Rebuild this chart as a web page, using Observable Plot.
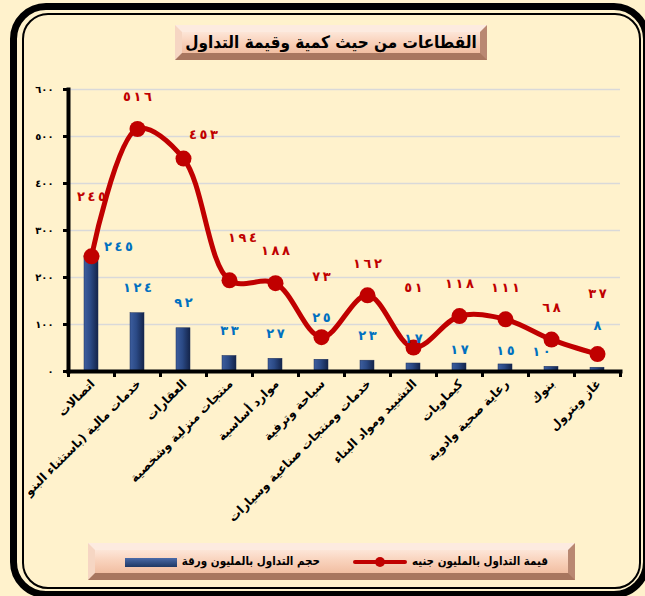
<!DOCTYPE html>
<html><head><meta charset="utf-8">
<script src="https://cdn.jsdelivr.net/npm/d3@7"></script>
<script src="https://cdn.jsdelivr.net/npm/@observablehq/plot@0.6"></script>
<style>
body{margin:0;background:#FFF2CC;}
#wrap{position:relative;width:645px;height:596px;overflow:hidden;background:#FFF2CC;font-family:"DejaVu Sans",sans-serif;}
#chart{position:absolute;left:28px;top:0;}
#outer{position:absolute;left:10px;top:3px;width:640px;height:595px;border:7px solid #000;border-radius:36px;box-sizing:border-box;pointer-events:none;}
#inner{position:absolute;left:22px;top:13px;width:619px;height:576px;border:2px solid #000;border-radius:26px;box-sizing:border-box;pointer-events:none;}
.bevel{position:absolute;box-sizing:border-box;border:7px solid;border-color:#fdebe0 #b98872 #a8765f #f6d6c3;
  background:linear-gradient(to bottom,#fde6d8 0%,#f9d3bd 45%,#f1bea2 100%);}
#title{left:175px;top:25px;width:312px;height:35px;text-align:center;font-weight:bold;font-size:17px;line-height:21px;color:#000;direction:rtl;white-space:nowrap;font-family:"DejaVu Sans Condensed","DejaVu Sans",sans-serif;}
#legend{left:88px;top:543px;width:487px;height:37px;}
.lt{position:absolute;font-weight:bold;font-size:11.5px;color:#000;direction:rtl;white-space:nowrap;top:554px;font-family:"DejaVu Sans Condensed","DejaVu Sans",sans-serif;}
</style></head>
<body><div id="wrap">
<div id="chart"></div>
<div id="title" class="bevel">القطاعات من حيث كمية وقيمة التداول</div>
<div id="legend" class="bevel"></div>
<div class="lt" style="right:97px;">قيمة التداول بالمليون جنيه</div>
<div style="position:absolute;left:353px;top:560px;width:54px;height:4px;background:#C00000;border-radius:2px;"></div>
<div style="position:absolute;left:375px;top:557px;width:10px;height:10px;background:#C00000;border-radius:50%;"></div>
<div class="lt" style="right:325px;">حجم التداول بالمليون ورقة</div>
<div style="position:absolute;left:125px;top:558px;width:52px;height:9px;background:linear-gradient(to bottom,#4a6aa8,#1f3864);"></div>
<div id="outer"></div>
<div id="inner"></div>
</div>
<script>
const categories = ["اتصالات","خدمات مالية (باستثناء البنوك)","العقارات","منتجات منزلية وشخصية","موارد أساسية","سياحة وترفية","خدمات ومنتجات صناعية وسيارات","التشييد ومواد البناء","كيماويات","رعاية صحية وادوية","بنوك","غاز وبترول"];
const tradeValue = [245,516,453,194,188,73,162,51,118,111,68,37];
const tradeVolume = [245,124,92,33,27,25,23,17,17,15,10,8];
const yTicks = [0,100,200,300,400,500,600];

const ar = n => String(n).replace(/\d/g, d => "٠١٢٣٤٥٦٧٨٩"[+d]);
const arSpaced = n => "\u202D" + Array.from(ar(n)).join("\u2009") + "\u202C";
const rtl = s => "\u200F" + s + "\u200F";
const data = categories.map((c,i) => ({c, i, line: tradeValue[i], bar: tradeVolume[i]}));
const pick = idx => data.filter(d => idx.includes(d.i));

const lab = (field, idx, dx, dy, fill) => Plot.text(pick(idx), {
  x: "c", y: field, text: d => arSpaced(d[field]), dx, dy, fill,
  fontSize: 13, fontWeight: "bold"
});

const plot = Plot.plot({
  width: 617, height: 540,
  marginLeft: 40, marginRight: 25, marginTop: 89, marginBottom: 169,
  style: {background: "transparent", fontFamily: "DejaVu Sans", overflow: "hidden"},
  x: {type: "band", domain: categories, paddingInner: 0.7, paddingOuter: 0.35, axis: null},
  y: {domain: [0, 600], axis: null},
  marks: [
    Plot.gridY(yTicks, {stroke: "#d9d9d9", strokeOpacity: 1, strokeWidth: 1.5}),
    Plot.barY(data, {x: "c", y: "bar", fill: "url(#barGrad)", stroke: "#1a2d57", strokeWidth: 0.5}),
    Plot.line(data, {x: "c", y: "line", curve: "catmull-rom", stroke: "#C00000", strokeWidth: 5}),
    Plot.dot(data, {x: "c", y: "line", r: 8, fill: "#C00000"}),
    Plot.axisY(yTicks, {tickFormat: ar, tickSize: 5, tickPadding: 10, strokeWidth: 3, fontSize: 10, fontWeight: "bold", color: "#000"}),
    Plot.frame({anchor: "left", strokeWidth: 4}),
    Plot.frame({anchor: "bottom", strokeWidth: 4}),
    Plot.ruleX(data, {x: "c", dx: -23, y1: 0, y2: 0, insetBottom: -6, strokeWidth: 3}),
    Plot.ruleX(pick([categories.length - 1]), {x: "c", dx: 23, y1: 0, y2: 0, insetBottom: -6, strokeWidth: 3}),
    lab("line", [1,4,6,8,9,10], 0, -32, "#C00000"),
    lab("line", [0,5,7,11], 0, -60, "#C00000"),
    lab("line", [2], 20, -24, "#C00000"),
    lab("line", [3], 13, -42, "#C00000"),
    lab("bar", [1,2,3,4,6,7], 0, -25, "#0070C0"),
    lab("bar", [0], 27, -10, "#0070C0"),
    lab("bar", [5,11], 0, -42, "#0070C0"),
    lab("bar", [8,9], 0, -14, "#0070C0"),
    lab("bar", [10], -10, -15, "#0070C0"),
    Plot.text(data, {x: "c", text: d => rtl(d.c), frameAnchor: "bottom", rotate: -45, textAnchor: "end",
      dx: 4, dy: 13, fontSize: 12, fontWeight: "bold", fill: "#000"})
  ]
});

const svg = d3.select(plot);
const defs = svg.insert("defs", ":first-child");
const g = defs.append("linearGradient").attr("id", "barGrad").attr("x1", "0").attr("x2", "1").attr("y1", "0").attr("y2", "0");
g.append("stop").attr("offset", "0%").attr("stop-color", "#3d5e9e");
g.append("stop").attr("offset", "45%").attr("stop-color", "#2b4a86");
g.append("stop").attr("offset", "100%").attr("stop-color", "#14244a");
document.getElementById("chart").appendChild(plot);
</script>
</body></html>
